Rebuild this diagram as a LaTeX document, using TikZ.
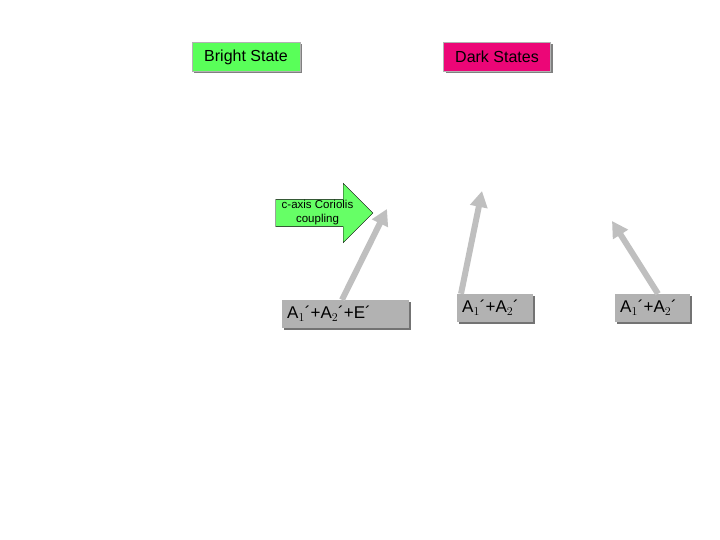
\documentclass[tikz,border=0pt]{standalone}
\usepackage{fontspec}
\setmainfont{Liberation Sans}
\usetikzlibrary{arrows.meta,shapes,shadows}
\tikzset{>=Stealth}
\tikzset{
  statebox/.style={draw=gray!60,inner sep=3pt,minimum height=29pt,
    font=\fontsize{16}{18}\selectfont,drop shadow={shadow xshift=2pt,shadow yshift=-2pt,fill=black!50,opacity=1}},
  levelbox/.style={fill=black!30,inner sep=5pt,minimum height=28pt,anchor=west,align=left,
    font=\fontsize{17}{19}\selectfont,drop shadow={shadow xshift=1.5pt,shadow yshift=-1.5pt,fill=black!55,opacity=1}},
  tilt/.style={draw=black!25,line width=6pt,-{Triangle[length=16pt,width=17pt]}}
}
\begin{document}
\begin{tikzpicture}[x=1pt,y=-1pt]
\useasboundingbox (0,0) rectangle (720,540);
\node[statebox,fill=green!65,minimum width=108pt] (bright) at (246,57) {Bright State};
\node[statebox,fill=magenta!80!red,minimum width=107pt] (dark) at (497,57) {Dark States};
\node[single arrow,draw=black,fill=green!60,minimum height=97pt,
  single arrow head extend=16pt,inner sep=1pt,align=center,
  shape border rotate=0,
  font=\fontsize{11.5}{14}\selectfont] (coriolis) at (317.5,213)
  {c-axis Coriolis\\coupling};
\node[levelbox,text width=117pt] (lvA) at (282,314) {A$_1$´+A$_2$´+E´};
\node[levelbox,text width=66pt] (lvB) at (457,308) {A$_1$´+A$_2$´};
\node[levelbox,text width=65pt] (lvC) at (615,308) {A$_1$´+A$_2$´};
\coordinate (tipA) at (387,209);
\coordinate (tipB) at (482,191);
\coordinate (tipC) at (612,221);
\draw[tilt] (lvA.north west)++(60,0) -- (tipA);
\draw[tilt] (lvB.north west)++(4,0) -- (tipB);
\draw[tilt] (lvC.north west)++(43,0) -- (tipC);
\end{tikzpicture}
\end{document}
